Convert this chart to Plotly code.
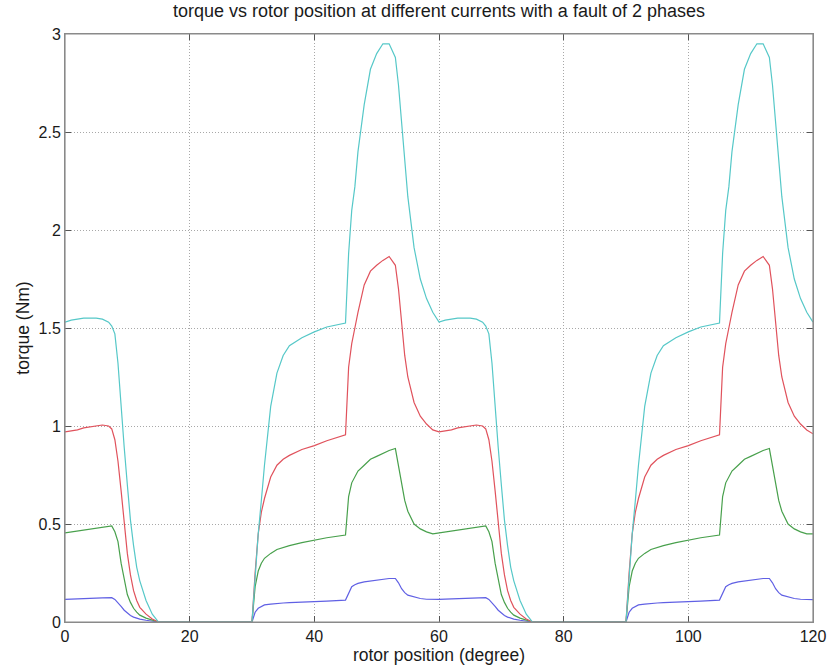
import plotly.graph_objects as go

# rotor position (degree)
x_deg = [0, 1, 2, 3, 4, 5, 6, 7, 7.5, 8, 8.5, 9, 9.5, 10, 10.5, 11, 11.5, 12, 13, 14, 15,
         30, 30.5, 31, 31.5, 32, 33, 34, 35, 36, 38, 40, 42, 45,
         45.5, 46, 46.5, 47, 48, 49, 50, 51, 52, 53,
         53.5, 54, 54.5, 55, 56, 57, 58, 59,
         60, 61, 62, 63, 64, 65, 66, 67, 67.5, 68, 68.5, 69, 69.5, 70, 70.5, 71, 71.5, 72, 73, 74, 75,
         90, 90.5, 91, 91.5, 92, 93, 94, 95, 96, 98, 100, 102, 105,
         105.5, 106, 106.5, 107, 108, 109, 110, 111, 112, 113,
         113.5, 114, 114.5, 115, 116, 117, 118, 119, 120]

torque_cyan = [1.53, 1.54, 1.545, 1.55, 1.55, 1.55, 1.545, 1.53, 1.51, 1.47, 1.32, 1.09, 0.89, 0.70, 0.52, 0.39, 0.28, 0.21, 0.11, 0.04, 0,
               0, 0.25, 0.45, 0.62, 0.80, 1.10, 1.27, 1.36, 1.41, 1.45, 1.48, 1.505, 1.525,
               1.88, 2.10, 2.22, 2.40, 2.64, 2.82, 2.90, 2.95, 2.95, 2.88,
               2.74, 2.55, 2.36, 2.17, 1.91, 1.75, 1.65, 1.58,
               1.53, 1.54, 1.545, 1.55, 1.55, 1.55, 1.545, 1.53, 1.51, 1.47, 1.32, 1.09, 0.89, 0.70, 0.52, 0.39, 0.28, 0.21, 0.11, 0.04, 0,
               0, 0.25, 0.45, 0.62, 0.80, 1.10, 1.27, 1.36, 1.41, 1.45, 1.48, 1.505, 1.525,
               1.88, 2.10, 2.22, 2.40, 2.64, 2.82, 2.90, 2.95, 2.95, 2.88,
               2.74, 2.55, 2.36, 2.17, 1.91, 1.75, 1.65, 1.58, 1.53]

torque_red = [0.97, 0.975, 0.98, 0.99, 0.995, 1.0, 1.005, 1.0, 0.985, 0.93, 0.82, 0.67, 0.50, 0.35, 0.24, 0.16, 0.11, 0.075, 0.04, 0.015, 0,
              0, 0.25, 0.45, 0.56, 0.63, 0.74, 0.80, 0.83, 0.85, 0.88, 0.90, 0.925, 0.955,
              1.30, 1.42, 1.50, 1.58, 1.72, 1.79, 1.82, 1.845, 1.865, 1.82,
              1.70, 1.52, 1.36, 1.25, 1.12, 1.05, 1.01, 0.98,
              0.97, 0.975, 0.98, 0.99, 0.995, 1.0, 1.005, 1.0, 0.985, 0.93, 0.82, 0.67, 0.50, 0.35, 0.24, 0.16, 0.11, 0.075, 0.04, 0.015, 0,
              0, 0.25, 0.45, 0.56, 0.63, 0.74, 0.80, 0.83, 0.85, 0.88, 0.90, 0.925, 0.955,
              1.30, 1.42, 1.50, 1.58, 1.72, 1.79, 1.82, 1.845, 1.865, 1.82,
              1.70, 1.52, 1.36, 1.25, 1.12, 1.05, 1.01, 0.98, 0.96]

torque_green = [0.455, 0.46, 0.465, 0.47, 0.475, 0.48, 0.485, 0.49, 0.49, 0.46, 0.41, 0.30, 0.21, 0.14, 0.10, 0.07, 0.05, 0.035, 0.02, 0.008, 0,
                0, 0.18, 0.26, 0.30, 0.325, 0.35, 0.37, 0.38, 0.39, 0.405, 0.418, 0.43, 0.444,
                0.64, 0.71, 0.74, 0.77, 0.80, 0.83, 0.845, 0.86, 0.875, 0.885,
                0.80, 0.70, 0.62, 0.565, 0.50, 0.475, 0.46, 0.45,
                0.455, 0.46, 0.465, 0.47, 0.475, 0.48, 0.485, 0.49, 0.49, 0.46, 0.41, 0.30, 0.21, 0.14, 0.10, 0.07, 0.05, 0.035, 0.02, 0.008, 0,
                0, 0.18, 0.26, 0.30, 0.325, 0.35, 0.37, 0.38, 0.39, 0.405, 0.418, 0.43, 0.444,
                0.64, 0.71, 0.74, 0.77, 0.80, 0.83, 0.845, 0.86, 0.875, 0.885,
                0.80, 0.70, 0.62, 0.565, 0.50, 0.475, 0.46, 0.45, 0.45]

torque_blue = [0.115, 0.117, 0.118, 0.12, 0.121, 0.122, 0.123, 0.124, 0.124, 0.115, 0.10, 0.08, 0.06, 0.045, 0.033, 0.025, 0.019, 0.015, 0.009, 0.004, 0,
               0, 0.05, 0.07, 0.08, 0.087, 0.091, 0.095, 0.097, 0.099, 0.101, 0.104, 0.107, 0.112,
               0.15, 0.18, 0.19, 0.197, 0.205, 0.21, 0.214, 0.218, 0.222, 0.222,
               0.20, 0.17, 0.15, 0.137, 0.127, 0.12, 0.116, 0.114,
               0.115, 0.117, 0.118, 0.12, 0.121, 0.122, 0.123, 0.124, 0.124, 0.115, 0.10, 0.08, 0.06, 0.045, 0.033, 0.025, 0.019, 0.015, 0.009, 0.004, 0,
               0, 0.05, 0.07, 0.08, 0.087, 0.091, 0.095, 0.097, 0.099, 0.101, 0.104, 0.107, 0.112,
               0.15, 0.18, 0.19, 0.197, 0.205, 0.21, 0.214, 0.218, 0.222, 0.222,
               0.20, 0.17, 0.15, 0.137, 0.127, 0.12, 0.116, 0.114, 0.114]

x_ticks = [0, 20, 40, 60, 80, 100, 120]
y_ticks = [0, 0.5, 1, 1.5, 2, 2.5, 3]
y_tick_text = ["0", "0.5", "1", "1.5", "2", "2.5", "3"]

series = [
    (torque_blue, "#6060e4"),
    (torque_green, "#48a04c"),
    (torque_red, "#e0525c"),
    (torque_cyan, "#56c8c8"),
]

fig = go.Figure()
for ys, col in series:
    fig.add_trace(go.Scatter(x=x_deg, y=ys, mode="lines",
                             line=dict(color=col, width=1.2), showlegend=False,
                             hoverinfo="skip"))

font_family = "Liberation Sans, Arial, sans-serif"
txt = "#1a1a1a"

axis_common = dict(
    showline=True, linecolor="#8a8a8a", linewidth=1, mirror="ticks",
    ticks="inside", ticklen=6, tickcolor="#555555", tickwidth=1,
    showgrid=True, gridcolor="#a8a8a8", griddash="1px,2px", gridwidth=1,
    zeroline=False, automargin=False,
    tickfont=dict(family=font_family, size=16, color=txt),
)

fig.update_layout(
    width=828, height=670,
    margin=dict(l=65, r=15, t=34, b=48),
    paper_bgcolor="white", plot_bgcolor="white",
    title=dict(text="torque vs rotor position at different currents with a fault of 2 phases",
               x=0.5, xref="paper", xanchor="center", y=0.993, yref="container", yanchor="top",
               font=dict(family=font_family, size=18, color=txt)),
    xaxis=dict(range=[0, 120], tickvals=x_ticks, ticktext=[str(v) for v in x_ticks],
               title=dict(text="rotor position (degree)", standoff=2,
                          font=dict(family=font_family, size=17.5, color=txt)),
               **axis_common),
    yaxis=dict(range=[0, 3], tickvals=y_ticks, ticktext=y_tick_text,
               title=dict(text="torque (Nm)", standoff=4,
                          font=dict(family=font_family, size=17.5, color=txt)),
               **axis_common),
    shapes=[dict(type="rect", xref="paper", yref="paper", x0=0, y0=0, x1=1, y1=1,
                 line=dict(color="#8a8a8a", width=1.2), layer="above")],
)

fig.write_html("out.html")
